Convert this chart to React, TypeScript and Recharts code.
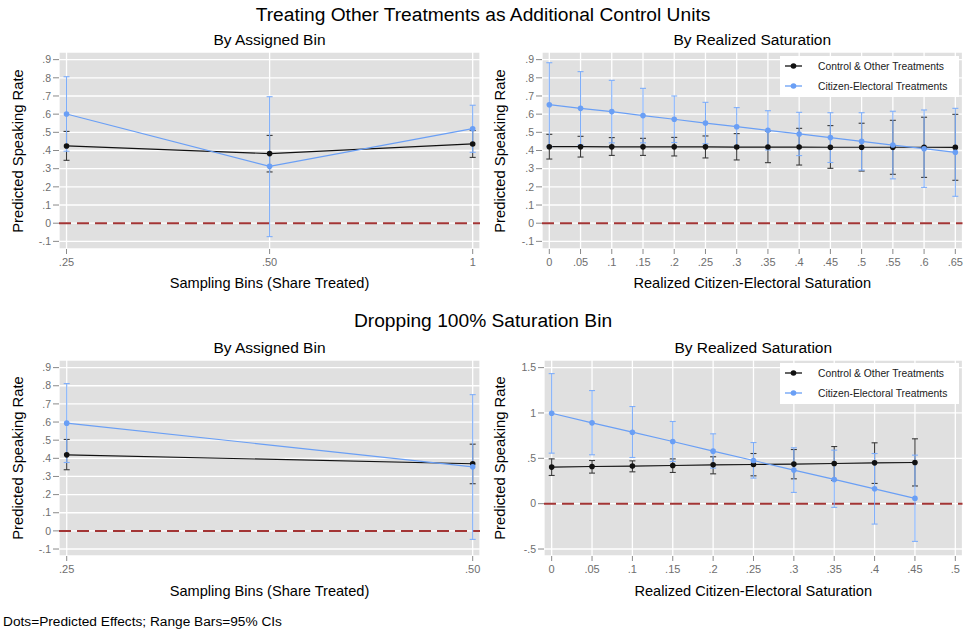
import React from 'react';
import { CartesianGrid, ComposedChart, ErrorBar, Line, ReferenceLine, XAxis, YAxis } from 'recharts';

// ── Data ───────────────────────────────────────────────────────────────────────

// top-left: by assigned bin (all bins)
const BIN3_LABELS = ['.25', '.50', '1'];
const BIN3_CTRL = [0.425, 0.383, 0.436];
const BIN3_CTRL_LO = [0.346, 0.282, 0.362];
const BIN3_CTRL_HI = [0.505, 0.483, 0.51];
const BIN3_CE = [0.601, 0.313, 0.52];
const BIN3_CE_LO = [0.396, -0.074, 0.39];
const BIN3_CE_HI = [0.806, 0.696, 0.649];

// top-right: by realized saturation
const SAT13_X = [0, 0.05, 0.1, 0.15, 0.2, 0.25, 0.3, 0.35, 0.4, 0.45, 0.5, 0.55, 0.6, 0.65];
const SAT13_LABELS = ['0', '.05', '.1', '.15', '.2', '.25', '.3', '.35', '.4', '.45', '.5', '.55', '.6', '.65'];
const SAT13_CTRL = [0.421, 0.421, 0.42, 0.42, 0.42, 0.42, 0.419, 0.419, 0.419, 0.418, 0.418, 0.418, 0.418, 0.417];
const SAT13_CTRL_LO = [0.353, 0.364, 0.373, 0.373, 0.37, 0.359, 0.348, 0.333, 0.32, 0.302, 0.287, 0.269, 0.252, 0.236];
const SAT13_CTRL_HI = [0.489, 0.478, 0.471, 0.467, 0.472, 0.48, 0.493, 0.507, 0.522, 0.537, 0.55, 0.566, 0.583, 0.599];
const SAT13_CE = [0.652, 0.632, 0.614, 0.592, 0.572, 0.551, 0.531, 0.511, 0.491, 0.471, 0.45, 0.43, 0.41, 0.39];
const SAT13_CE_LO = [0.421, 0.43, 0.442, 0.442, 0.444, 0.437, 0.426, 0.403, 0.372, 0.334, 0.292, 0.244, 0.197, 0.148];
const SAT13_CE_HI = [0.883, 0.834, 0.786, 0.742, 0.7, 0.665, 0.636, 0.619, 0.61, 0.608, 0.608, 0.616, 0.623, 0.632];

// bottom-left: by assigned bin, 100% bin dropped
const BIN2_LABELS = ['.25', '.50'];
const BIN2_CTRL = [0.419, 0.37];
const BIN2_CTRL_LO = [0.337, 0.26];
const BIN2_CTRL_HI = [0.504, 0.478];
const BIN2_CE = [0.594, 0.353];
const BIN2_CE_LO = [0.377, -0.047];
const BIN2_CE_HI = [0.812, 0.751];

// bottom-right: by realized saturation, 100% bin dropped
const SAT10_X = [0, 0.05, 0.1, 0.15, 0.2, 0.25, 0.3, 0.35, 0.4, 0.45];
const SAT11_TICKS = [0, 0.05, 0.1, 0.15, 0.2, 0.25, 0.3, 0.35, 0.4, 0.45, 0.5];
const SAT11_LABELS = ['0', '.05', '.1', '.15', '.2', '.25', '.3', '.35', '.4', '.45', '.5'];
const SAT10_CTRL = [0.403, 0.41, 0.414, 0.421, 0.428, 0.432, 0.436, 0.443, 0.45, 0.454];
const SAT10_CTRL_LO = [0.311, 0.337, 0.351, 0.344, 0.329, 0.307, 0.274, 0.256, 0.223, 0.195];
const SAT10_CTRL_HI = [0.494, 0.476, 0.472, 0.494, 0.517, 0.553, 0.597, 0.63, 0.671, 0.715];
const SAT10_CE = [0.997, 0.891, 0.788, 0.685, 0.579, 0.476, 0.37, 0.267, 0.164, 0.058];
const SAT10_CE_LO = [0.557, 0.539, 0.509, 0.465, 0.392, 0.282, 0.124, -0.041, -0.225, -0.416];
const SAT10_CE_HI = [1.434, 1.247, 1.071, 0.906, 0.77, 0.674, 0.616, 0.59, 0.553, 0.535];

// y axes
const RATE_TICKS = [-0.1, 0, 0.1, 0.2, 0.3, 0.4, 0.5, 0.6, 0.7, 0.8, 0.9];
const RATE_LABELS = ['-.1', '0', '.1', '.2', '.3', '.4', '.5', '.6', '.7', '.8', '.9'];
const WIDE_TICKS = [-0.5, 0, 0.5, 1, 1.5];
const WIDE_LABELS = ['-.5', '0', '.5', '1', '1.5'];

// ── Styling ────────────────────────────────────────────────────────────────────

const FONT = 'Arial, "Liberation Sans", sans-serif';
const BG = '#e0e0e0';
const CTRL_COLOR = '#111111';
const CTRL_BAR = '#3a3a3a';
const CE_COLOR = '#6a9ff5';
const CE_BAR = '#7eaefa';
const ZERO_COLOR = '#a33535';
const TICK_TEXT = '#6e6e6e';

const Y_AXIS_W = 50;
const X_AXIS_H = 30;

type Rect = { left: number; top: number; right: number; bottom: number };

function buildRows(xs: number[], c: number[], cLo: number[], cHi: number[], e: number[], eLo: number[], eHi: number[]) {
  return xs.map((x, i) => ({
    x,
    ctrl: c[i],
    ctrlErr: [c[i] - cLo[i], cHi[i] - c[i]],
    ce: e[i],
    ceErr: [e[i] - eLo[i], eHi[i] - e[i]],
  }));
}

function labeler(ticks: number[], labels: string[]) {
  return (v: number) => {
    const i = ticks.findIndex(t => Math.abs(t - v) < 1e-9);
    return i >= 0 ? labels[i] : '';
  };
}

function Text({ x, y, size, children, rotate, anchor = 'center' }: {
  x: number; y: number; size: number; children: React.ReactNode; rotate?: boolean; anchor?: 'center' | 'left';
}) {
  const tx = anchor === 'center' ? '-50%' : '0';
  return (
    <div
      style={{
        position: 'absolute', left: x, top: y, fontSize: size, lineHeight: 1, whiteSpace: 'nowrap',
        color: '#000', fontFamily: FONT,
        transform: `translate(${tx}, -50%)${rotate ? ' rotate(-90deg)' : ''}`,
      }}
    >
      {children}
    </div>
  );
}

function LegendBox({ left, top }: { left: number; top: number }) {
  const item = (color: string, label: string) => (
    <div style={{ display: 'flex', alignItems: 'center', height: 20 }}>
      <svg width={33} height={10} style={{ marginLeft: 5 }}>
        <line x1={0} y1={5} x2={17} y2={5} stroke={color} strokeWidth={1.3} />
        <circle cx={8.5} cy={5} r={2.8} fill={color} />
      </svg>
      <span style={{ fontSize: 10.3, color: '#222' }}>{label}</span>
    </div>
  );
  return (
    <div
      style={{
        position: 'absolute', left, top, width: 179, height: 41, background: '#fff',
        fontFamily: FONT, boxSizing: 'border-box',
      }}
    >
      {item(CTRL_COLOR, 'Control & Other Treatments')}
      {item(CE_COLOR, 'Citizen-Electoral Treatments')}
    </div>
  );
}

function Panel({ plot, rows, xDomain, xTicks, xFmt, yDomain, yTicks, yFmt }: {
  plot: Rect; rows: ReturnType<typeof buildRows>;
  xDomain: [number, number]; xTicks: number[]; xFmt: (v: number) => string;
  yDomain: [number, number]; yTicks: number[]; yFmt: (v: number) => string;
}) {
  const padL = 60, padT = 8, padR = 3, padB = 36;
  const w = plot.right - plot.left + padL + padR;
  const h = plot.bottom - plot.top + padT + padB;
  return (
    <div style={{ position: 'absolute', left: plot.left - padL, top: plot.top - padT }}>
      <ComposedChart
        width={w}
        height={h}
        data={rows}
        margin={{ top: padT, right: padR, bottom: padB - X_AXIS_H, left: padL - Y_AXIS_W }}
      >
        <CartesianGrid fill={BG} fillOpacity={1} stroke="#ffffff" strokeWidth={1.3} />
        <XAxis
          dataKey="x"
          type="number"
          domain={xDomain}
          ticks={xTicks}
          allowDataOverflow
          interval={0}
          height={X_AXIS_H}
          tickFormatter={xFmt}
          axisLine={false}
          tickLine={{ stroke: '#8a8a8a' }}
          tickSize={5}
          tickMargin={4}
          tick={{ fontSize: 11, fill: TICK_TEXT, fontFamily: FONT }}
        />
        <YAxis
          type="number"
          domain={yDomain}
          ticks={yTicks}
          allowDataOverflow
          interval={0}
          width={Y_AXIS_W}
          tickFormatter={yFmt}
          axisLine={false}
          tickLine={{ stroke: '#8a8a8a' }}
          tickSize={6}
          tickMargin={2}
          tick={{ fontSize: 10.5, fill: TICK_TEXT, fontFamily: FONT }}
        />
        <ReferenceLine y={0} stroke={ZERO_COLOR} strokeWidth={2} strokeDasharray="12 6" />
        <Line
          dataKey="ctrl"
          stroke={CTRL_COLOR}
          strokeWidth={1.2}
          dot={{ r: 2.8, fill: CTRL_COLOR, stroke: 'none' }}
          activeDot={false}
          isAnimationActive={false}
        >
          <ErrorBar dataKey="ctrlErr" direction="y" width={3} stroke={CTRL_BAR} strokeWidth={1.1} />
        </Line>
        <Line
          dataKey="ce"
          stroke={CE_COLOR}
          strokeWidth={1.2}
          dot={{ r: 2.8, fill: CE_COLOR, stroke: 'none' }}
          activeDot={false}
          isAnimationActive={false}
        >
          <ErrorBar dataKey="ceErr" direction="y" width={3} stroke={CE_BAR} strokeWidth={1.1} />
        </Line>
      </ComposedChart>
    </div>
  );
}

// ── Layout ─────────────────────────────────────────────────────────────────────

const P1: Rect = { left: 59, top: 52, right: 480, bottom: 249 };
const P2: Rect = { left: 542, top: 52, right: 962.5, bottom: 249 };
const P3: Rect = { left: 59, top: 360, right: 480, bottom: 556 };
const P4: Rect = { left: 544, top: 360, right: 962.5, bottom: 556 };

const mid = (r: Rect) => (r.left + r.right) / 2;
const vmid = (r: Rect) => (r.top + r.bottom) / 2;

export default function App() {
  const rows1 = buildRows([0, 1, 2], BIN3_CTRL, BIN3_CTRL_LO, BIN3_CTRL_HI, BIN3_CE, BIN3_CE_LO, BIN3_CE_HI);
  const rows2 = buildRows(SAT13_X, SAT13_CTRL, SAT13_CTRL_LO, SAT13_CTRL_HI, SAT13_CE, SAT13_CE_LO, SAT13_CE_HI);
  const rows3 = buildRows([0, 1], BIN2_CTRL, BIN2_CTRL_LO, BIN2_CTRL_HI, BIN2_CE, BIN2_CE_LO, BIN2_CE_HI);
  const rows4 = buildRows(SAT10_X, SAT10_CTRL, SAT10_CTRL_LO, SAT10_CTRL_HI, SAT10_CE, SAT10_CE_LO, SAT10_CE_HI);

  const rateFmt = labeler(RATE_TICKS, RATE_LABELS);
  const wideFmt = labeler(WIDE_TICKS, WIDE_LABELS);

  return (
    <div
      style={{
        position: 'absolute', left: 0, top: 0, width: 965, height: 634,
        background: '#fff', overflow: 'hidden', fontFamily: FONT,
      }}
    >
      <Text x={483} y={15} size={19.2}>Treating Other Treatments as Additional Control Units</Text>
      <Text x={mid(P1)} y={40} size={15.5}>By Assigned Bin</Text>
      <Text x={mid(P2)} y={40} size={15.5}>By Realized Saturation</Text>

      <Panel
        plot={P1} rows={rows1}
        xDomain={[-0.037, 2.036]} xTicks={[0, 1, 2]} xFmt={labeler([0, 1, 2], BIN3_LABELS)}
        yDomain={[-0.142, 0.942]} yTicks={RATE_TICKS} yFmt={rateFmt}
      />
      <Panel
        plot={P2} rows={rows2}
        xDomain={[-0.0117, 0.6615]} xTicks={SAT13_X} xFmt={labeler(SAT13_X, SAT13_LABELS)}
        yDomain={[-0.142, 0.942]} yTicks={RATE_TICKS} yFmt={rateFmt}
      />
      <LegendBox left={780} top={56} />

      <Text x={18} y={vmid(P1)} size={14.8} rotate>Predicted Speaking Rate</Text>
      <Text x={500} y={vmid(P2)} size={14.8} rotate>Predicted Speaking Rate</Text>
      <Text x={mid(P1)} y={283} size={14.6}>Sampling Bins (Share Treated)</Text>
      <Text x={mid(P2)} y={283} size={14.6}>Realized Citizen-Electoral Saturation</Text>

      <Text x={483} y={321} size={19.2}>Dropping 100% Saturation Bin</Text>
      <Text x={mid(P3)} y={348} size={15.5}>By Assigned Bin</Text>
      <Text x={mid(P4)} y={348} size={15.5}>By Realized Saturation</Text>

      <Panel
        plot={P3} rows={rows3}
        xDomain={[-0.019, 1.018]} xTicks={[0, 1]} xFmt={labeler([0, 1], BIN2_LABELS)}
        yDomain={[-0.1385, 0.942]} yTicks={RATE_TICKS} yFmt={rateFmt}
      />
      <Panel
        plot={P4} rows={rows4}
        xDomain={[-0.0095, 0.5089]} xTicks={SAT11_TICKS} xFmt={labeler(SAT11_TICKS, SAT11_LABELS)}
        yDomain={[-0.577, 1.584]} yTicks={WIDE_TICKS} yFmt={wideFmt}
      />
      <LegendBox left={780} top={363} />

      <Text x={18} y={vmid(P3)} size={14.8} rotate>Predicted Speaking Rate</Text>
      <Text x={500} y={vmid(P4)} size={14.8} rotate>Predicted Speaking Rate</Text>
      <Text x={mid(P3)} y={591} size={14.6}>Sampling Bins (Share Treated)</Text>
      <Text x={mid(P4)} y={591} size={14.6}>Realized Citizen-Electoral Saturation</Text>

      <Text x={3} y={622} size={13.7} anchor="left">Dots=Predicted Effects; Range Bars=95% CIs</Text>
    </div>
  );
}
